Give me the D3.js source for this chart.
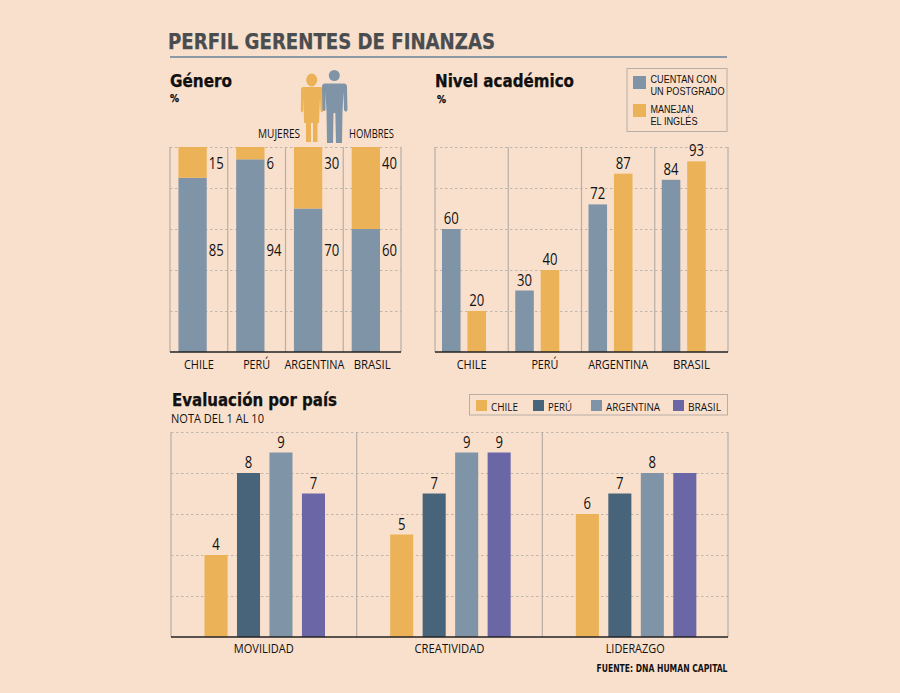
<!DOCTYPE html>
<html>
<head>
<meta charset="utf-8">
<script src="https://cdn.jsdelivr.net/npm/d3@7"></script>
<style>
  html, body { margin: 0; padding: 0; background: #f9e0cd; }
  svg { display: block; }
  text { font-family: "Open Sans", "DejaVu Sans Condensed", sans-serif; fill: #111; }
  .head { font-family: "DejaVu Sans Condensed", "DejaVu Sans", sans-serif; font-weight: bold; stroke: currentColor; stroke-width: 0.25; }
  .tight { font-family: "Liberation Sans", sans-serif; }
  .grid line { stroke: #b3aba3; stroke-dasharray: 2.5 2.5; stroke-width: 0.8; }
  .grid path { display: none; }
  .cats path, .cats line { display: none; }
</style>
</head>
<body>
<svg id="chart" width="900" height="693"></svg>
<script>
const countries = ["CHILE", "PERÚ", "ARGENTINA", "BRASIL"];

// Género %
const hombres = [85, 94, 70, 60];
const mujeres = [15, 6, 30, 40];

// Nivel académico %
const postgrado = [60, 30, 72, 84];
const ingles = [20, 40, 87, 93];

// Evaluación por país
const skills = ["MOVILIDAD", "CREATIVIDAD", "LIDERAZGO"];
const notaChile = [4, 5, 6];
const notaPeru = [8, 7, 7];
const notaArgentina = [9, 9, 8];
const notaBrasil = [7, 9, 8];
// the Brasil / Liderazgo bar has no number on it in the original
const notaBrasilLabels = ["7", "9", ""];

const pctTicks = [20, 40, 60, 80, 100];
const notaTicks = [2, 4, 6, 8, 10];

const BLUE = "#8094a7", ORANGE = "#ecb257", DARK = "#48647a", PURPLE = "#6b66a6";

// the original face is a narrow one, so text gets squeezed to these widths
const catWidth = { CHILE: 30, "PERÚ": 27, ARGENTINA: 60, BRASIL: 37, MOVILIDAD: 60, CREATIVIDAD: 70, LIDERAZGO: 59 };
const DIGIT_W = 7.5;

const svg = d3.select("#chart");

function squeeze(sel, w) {
  return sel.attr("textLength", w).attr("lengthAdjust", "spacingAndGlyphs");
}

function txt(x, y, s, size, cls) {
  return svg.append("text").attr("x", x).attr("y", y).attr("font-size", size)
    .attr("class", cls || null).text(s);
}

function numbers(data, x, y, text, anchor) {
  return svg.append("g").selectAll("text").data(data).join("text")
    .attr("x", x).attr("y", y)
    .attr("text-anchor", anchor).attr("font-size", 17)
    .text(text)
    .each(function () {
      const n = this.textContent.length;
      if (n) squeeze(d3.select(this), n * DIGIT_W);
    });
}

// grid, dividers and category labels shared by the three panels
function frame(x, y, ticks, labelDy) {
  const [x0, x1] = x.range();
  const [y0, y1] = y.range();

  svg.append("g").attr("class", "grid")
    .attr("transform", `translate(${x0},0)`)
    .call(d3.axisLeft(y).tickValues(ticks).tickSize(-(x1 - x0)).tickFormat(""));

  const edges = x.domain().map(d => x(d)).concat([x1]);
  svg.append("g").selectAll("line").data(edges).join("line")
    .attr("x1", d => d).attr("x2", d => d)
    .attr("y1", y1).attr("y2", y0)
    .attr("stroke", "#b8aea6").attr("stroke-width", 1.2);

  const axis = svg.append("g").attr("class", "cats")
    .attr("transform", `translate(0,${y0})`)
    .call(d3.axisBottom(x).tickSize(0).tickPadding(labelDy));
  axis.selectAll("text")
    .attr("font-size", 13).style("fill", "#111")
    .style("font-family", '"Open Sans", sans-serif')
    .each(function (d) { squeeze(d3.select(this), catWidth[d]); });
}

function baseline(x, y) {
  const [x0, x1] = x.range();
  svg.append("line").attr("x1", x0).attr("x2", x1)
    .attr("y1", y.range()[0]).attr("y2", y.range()[0])
    .attr("stroke", "#222").attr("stroke-width", 1.4);
}

// HEADER
squeeze(txt(168, 49, "PERFIL GERENTES DE FINANZAS", 21, "head").style("fill", "#4a4d50").style("color", "#4a4d50"), 327);
svg.append("rect").attr("x", 170).attr("y", 56).attr("width", 557).attr("height", 2).attr("fill", "#8d9aa5");

// GÉNERO
squeeze(txt(170, 87, "Género", 18, "head"), 62);
txt(170, 102, "%", 10, "head");
squeeze(txt(258, 138, "MUJERES", 12.5), 42);
squeeze(txt(349, 138, "HOMBRES", 12.5), 45);

// people icons
const woman = svg.append("g").attr("fill", ORANGE);
woman.append("ellipse").attr("cx", 311.7).attr("cy", 80).attr("rx", 5.5).attr("ry", 6.5);
woman.append("path").attr("d", "M303 87 L320.5 87 Q322.7 87 322.8 90 L323 111 Q322 113.5 320.5 111 L320 98 L319 123 L317.5 123 L317.5 142 L313 142 L313 123 L311 123 L311 142 L306 142 L306 123 L304 123 L303.5 98 L303.2 111 Q302 113.5 300.8 111 L301 90 Q301 87 303 87 Z");
const man = svg.append("g").attr("fill", BLUE);
man.append("circle").attr("cx", 334.3).attr("cy", 75.5).attr("r", 5.5);
man.append("path").attr("d", "M325 83.5 L344 83.5 Q347 83.5 347 87 L347.5 110 Q346 113.5 344 110 L343.5 92 L342.5 112 L342 143 L336 143 L335.3 113 L333.5 113 L333 143 L327 143 L326.5 112 L325.5 92 L325.5 110 Q324 112 322.5 110 L322 87 Q322 83.5 325 83.5 Z");

const xGenero = d3.scaleBand().domain(countries).range([170, 401]);
const yPct = d3.scaleLinear().domain([0, 100]).range([352, 147]);
frame(xGenero, yPct, pctTicks, 8);

const gBarW = xGenero.bandwidth() * 0.49;
const gBarX = d => xGenero(d) + xGenero.bandwidth() * 0.146;

svg.append("g").selectAll("rect").data(countries).join("rect")
  .attr("x", gBarX).attr("width", gBarW)
  .attr("y", (d, i) => yPct(hombres[i]))
  .attr("height", (d, i) => yPct(0) - yPct(hombres[i]))
  .attr("fill", BLUE);
svg.append("g").selectAll("rect").data(countries).join("rect")
  .attr("x", gBarX).attr("width", gBarW)
  .attr("y", (d, i) => yPct(hombres[i] + mujeres[i]))
  .attr("height", (d, i) => yPct(hombres[i]) - yPct(hombres[i] + mujeres[i]))
  .attr("fill", ORANGE);

// numbers sit in fixed rows beside the bars
numbers(countries, d => gBarX(d) + gBarW + 2, yPct(50) + 6, (d, i) => hombres[i], "start");
numbers(countries, d => gBarX(d) + gBarW + 2, yPct(92) + 6, (d, i) => mujeres[i], "start");
baseline(xGenero, yPct);

// NIVEL ACADÉMICO
squeeze(txt(435, 87, "Nivel académico", 18, "head"), 139);
txt(437, 103, "%", 10, "head");

const xNivel = d3.scaleBand().domain(countries).range([435, 728]);
frame(xNivel, yPct, pctTicks, 8);

const nivelSeries = [
  { key: "post", values: postgrado, color: BLUE },
  { key: "ing", values: ingles, color: ORANGE }
];
const xNivelInner = d3.scaleBand().domain(nivelSeries.map(s => s.key)).range([7, 51]).paddingInner(0.27);

nivelSeries.forEach(s => {
  svg.append("g").selectAll("rect").data(countries).join("rect")
    .attr("x", d => xNivel(d) + xNivelInner(s.key))
    .attr("width", xNivelInner.bandwidth())
    .attr("y", (d, i) => yPct(s.values[i]))
    .attr("height", (d, i) => yPct(0) - yPct(s.values[i]))
    .attr("fill", s.color);
  numbers(countries,
    d => xNivel(d) + xNivelInner(s.key) + xNivelInner.bandwidth() / 2,
    (d, i) => yPct(s.values[i]) - 5,
    (d, i) => s.values[i], "middle");
});
baseline(xNivel, yPct);

// legend top right
svg.append("rect").attr("x", 627).attr("y", 68.5).attr("width", 100).attr("height", 63)
  .attr("fill", "none").attr("stroke", "#b8aea6");
svg.append("rect").attr("x", 633).attr("y", 76).attr("width", 13).attr("height", 13).attr("fill", BLUE);
svg.append("rect").attr("x", 633).attr("y", 104).attr("width", 13).attr("height", 13).attr("fill", ORANGE);
squeeze(txt(650.5, 82.5, "CUENTAN CON", 10.2, "tight"), 66);
squeeze(txt(650.5, 94.5, "UN POSTGRADO", 10.2, "tight"), 74);
squeeze(txt(650.5, 112.5, "MANEJAN", 10.2, "tight"), 43);
squeeze(txt(650.5, 124.5, "EL INGLÉS", 10.2, "tight"), 47);

// EVALUACIÓN
squeeze(txt(172, 406, "Evaluación por país", 18, "head"), 165);
squeeze(txt(171, 423, "NOTA DEL 1 AL 10", 12.5), 93);

const xSkill = d3.scaleBand().domain(skills).range([171, 728]);
const yNota = d3.scaleLinear().domain([0, 10]).range([637, 432]);
frame(xSkill, yNota, notaTicks, 7);

const evalSeries = [
  { key: "CHILE", values: notaChile, labels: notaChile, color: ORANGE },
  { key: "PERÚ", values: notaPeru, labels: notaPeru, color: DARK },
  { key: "ARGENTINA", values: notaArgentina, labels: notaArgentina, color: BLUE },
  { key: "BRASIL", values: notaBrasil, labels: notaBrasilLabels, color: PURPLE }
];
const xEvalInner = d3.scaleBand().domain(countries).range([33.5, 154]).paddingInner(0.29);

evalSeries.forEach(s => {
  svg.append("g").selectAll("rect").data(skills).join("rect")
    .attr("x", d => xSkill(d) + xEvalInner(s.key))
    .attr("width", xEvalInner.bandwidth())
    .attr("y", (d, i) => yNota(s.values[i]))
    .attr("height", (d, i) => yNota(0) - yNota(s.values[i]))
    .attr("fill", s.color);
  numbers(skills,
    d => xSkill(d) + xEvalInner(s.key) + xEvalInner.bandwidth() / 2,
    (d, i) => yNota(s.values[i]) - 5,
    (d, i) => s.labels[i], "middle");
});
baseline(xSkill, yNota);

// legend bottom
svg.append("rect").attr("x", 469.5).attr("y", 394.5).attr("width", 258).attr("height", 20.5)
  .attr("fill", "none").attr("stroke", "#b8aea6");
const legendSwatchX = [476, 533, 591, 673];
const legendTextW = [27, 24, 54, 33];
evalSeries.forEach((s, i) => {
  svg.append("rect").attr("x", legendSwatchX[i]).attr("y", 400).attr("width", 11).attr("height", 11).attr("fill", s.color);
  squeeze(txt(legendSwatchX[i] + 15, 410.5, s.key, 11.5), legendTextW[i]);
});

squeeze(txt(596.5, 672, "FUENTE: DNA HUMAN CAPITAL", 10, "head").style("stroke-width", 0), 131);
</script>
</body>
</html>
